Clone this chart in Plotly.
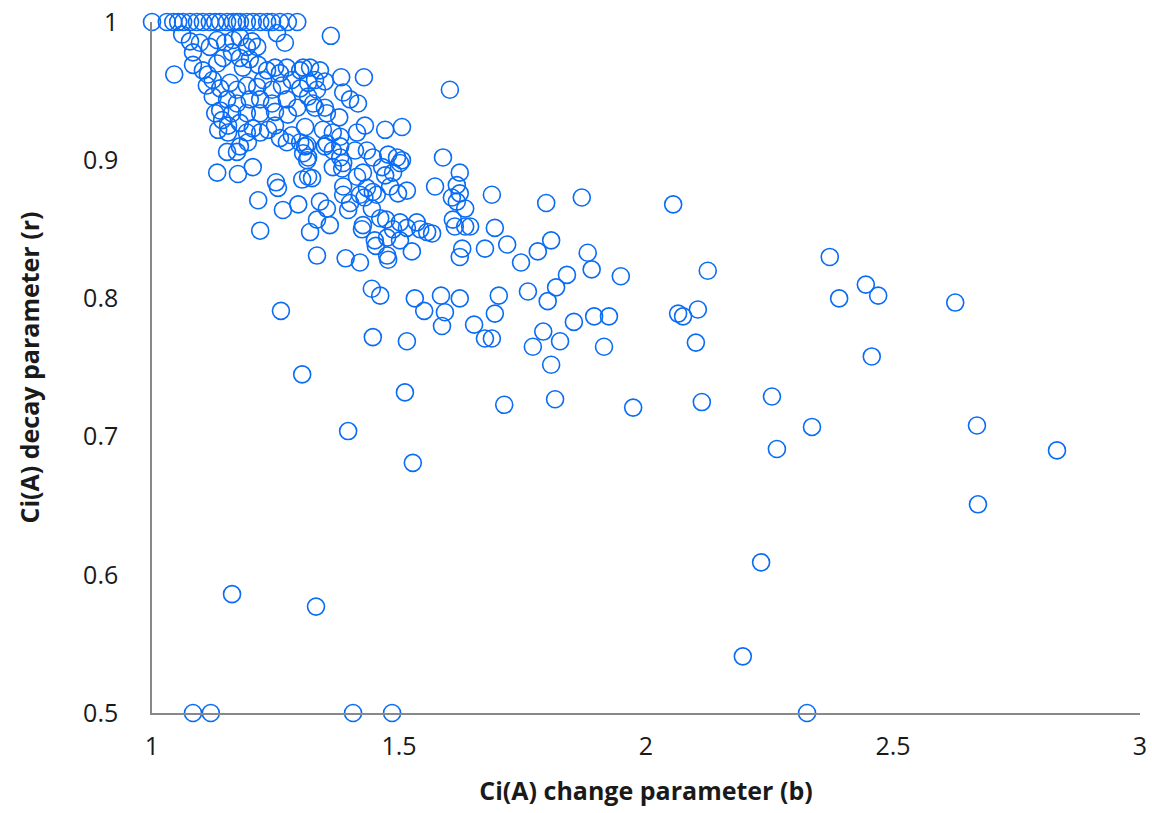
import plotly.graph_objects as go

# Ci(A) change parameter (b) and decay parameter (r)
b_top = [1.000, 1.030, 1.043, 1.053, 1.063, 1.077, 1.091, 1.103, 1.117, 1.128, 1.138, 1.152,
         1.164, 1.172, 1.178, 1.192, 1.204, 1.219, 1.233, 1.243, 1.259, 1.275, 1.294]
r_top = [1.0] * len(b_top)

b_c1 = [1.362, 1.045, 1.061, 1.077, 1.083, 1.097, 1.117, 1.132, 1.148, 1.164, 1.178, 1.192, 1.202,
        1.213, 1.253, 1.269, 1.083, 1.103, 1.113, 1.132, 1.144, 1.162, 1.178, 1.184, 1.198, 1.215,
        1.233, 1.249, 1.259, 1.273, 1.300, 1.320, 1.340, 1.111, 1.123, 1.138, 1.158, 1.172, 1.192,
        1.213, 1.225, 1.243, 1.263, 1.283, 1.300, 1.316, 1.334, 1.123, 1.152, 1.172, 1.198, 1.219,
        1.243, 1.273, 1.294, 1.326, 1.138, 1.162, 1.192, 1.219, 1.249, 1.275, 1.354]
r_c1 = [0.990, 0.962, 0.991, 0.986, 0.978, 0.985, 0.982, 0.987, 0.985, 0.987, 0.989, 0.982, 0.986,
        0.982, 0.992, 0.985, 0.969, 0.965, 0.962, 0.970, 0.974, 0.978, 0.974, 0.967, 0.973, 0.969,
        0.965, 0.967, 0.963, 0.967, 0.965, 0.967, 0.965, 0.954, 0.958, 0.952, 0.956, 0.951, 0.954,
        0.953, 0.958, 0.951, 0.954, 0.958, 0.952, 0.956, 0.951, 0.946, 0.944, 0.941, 0.944, 0.944,
        0.941, 0.944, 0.938, 0.941, 0.936, 0.934, 0.934, 0.934, 0.935, 0.933, 0.934]

b_c2 = [1.603, 1.429, 1.383, 1.350, 1.306, 1.330, 1.316, 1.387, 1.401, 1.417, 1.350, 1.330, 1.379,
        1.431, 1.472, 1.506, 1.346, 1.366, 1.381, 1.415, 1.310, 1.310, 1.354, 1.381, 1.411, 1.435,
        1.316, 1.381, 1.387, 1.447, 1.478, 1.496, 1.506, 1.589, 1.502, 1.623, 1.466, 1.488, 1.472,
        1.427, 1.415, 1.385, 1.316, 1.387, 1.435, 1.447, 1.482, 1.516, 1.573, 1.617, 1.623]
r_c2 = [0.951, 0.960, 0.960, 0.957, 0.967, 0.958, 0.946, 0.949, 0.944, 0.941, 0.938, 0.938, 0.931,
        0.925, 0.922, 0.924, 0.922, 0.920, 0.917, 0.920, 0.924, 0.910, 0.912, 0.910, 0.907, 0.907,
        0.902, 0.902, 0.898, 0.902, 0.904, 0.902, 0.900, 0.902, 0.898, 0.891, 0.895, 0.891, 0.889,
        0.891, 0.888, 0.894, 0.888, 0.881, 0.880, 0.877, 0.881, 0.878, 0.881, 0.882, 0.876]

b_c3 = [1.132, 1.174, 1.204, 1.251, 1.255, 1.304, 1.324, 1.215, 1.265, 1.296, 1.340, 1.354, 1.219,
        1.320, 1.334, 1.360, 1.152, 1.172, 1.134, 1.142, 1.154, 1.178, 1.192, 1.204, 1.219, 1.235,
        1.249, 1.259, 1.273, 1.283, 1.300, 1.314, 1.306, 1.314, 1.350, 1.366, 1.366, 1.178, 1.194,
        1.154, 1.128]
r_c3 = [0.891, 0.890, 0.895, 0.884, 0.880, 0.886, 0.887, 0.871, 0.864, 0.868, 0.870, 0.865, 0.849,
        0.848, 0.857, 0.853, 0.906, 0.906, 0.922, 0.929, 0.925, 0.927, 0.920, 0.923, 0.920, 0.922,
        0.925, 0.916, 0.913, 0.918, 0.913, 0.911, 0.905, 0.900, 0.910, 0.907, 0.895, 0.910, 0.913,
        0.920, 0.934]

b_c4 = [1.387, 1.401, 1.397, 1.421, 1.430, 1.455, 1.445, 1.427, 1.425, 1.451, 1.453, 1.476, 1.478,
        1.462, 1.474, 1.502, 1.502, 1.526, 1.516, 1.536, 1.543, 1.557, 1.567, 1.488, 1.476, 1.498,
        1.607, 1.617, 1.634, 1.609, 1.613, 1.634, 1.644, 1.628, 1.623, 1.334, 1.392, 1.421, 1.445,
        1.462, 1.532, 1.551, 1.585, 1.593, 1.587, 1.623, 1.652, 1.447, 1.516, 1.261]
r_c4 = [0.875, 0.869, 0.864, 0.875, 0.873, 0.875, 0.865, 0.853, 0.850, 0.842, 0.838, 0.831, 0.828,
        0.858, 0.857, 0.855, 0.842, 0.834, 0.851, 0.855, 0.850, 0.848, 0.847, 0.850, 0.844, 0.876,
        0.873, 0.870, 0.865, 0.857, 0.852, 0.852, 0.852, 0.836, 0.830, 0.831, 0.829, 0.826, 0.807,
        0.802, 0.800, 0.791, 0.802, 0.790, 0.780, 0.800, 0.781, 0.772, 0.769, 0.791]

b_c5 = [1.688, 1.798, 1.870, 2.055, 1.694, 1.674, 1.719, 1.747, 1.781, 1.808, 1.882, 1.890, 1.949,
        2.125, 1.840, 1.818, 1.801, 1.761, 1.702, 1.694, 1.674, 1.688, 1.792, 1.771, 1.826, 1.808,
        1.854, 1.895, 1.925, 1.915, 2.065, 2.075, 2.105, 2.101, 1.713, 1.816, 1.974, 2.113]
r_c5 = [0.875, 0.869, 0.873, 0.868, 0.851, 0.836, 0.839, 0.826, 0.834, 0.842, 0.833, 0.821, 0.816,
        0.820, 0.817, 0.808, 0.798, 0.805, 0.802, 0.789, 0.771, 0.771, 0.776, 0.765, 0.769, 0.752,
        0.783, 0.787, 0.787, 0.765, 0.789, 0.787, 0.792, 0.768, 0.723, 0.727, 0.721, 0.725]

b_sparse = [2.372, 2.391, 2.445, 2.470, 2.626, 2.457, 2.255, 2.336, 2.265, 2.670, 2.832, 2.672,
            2.233, 2.196, 2.326, 1.304, 1.512, 1.397, 1.528, 1.162, 1.332, 1.083, 1.119, 1.407, 1.486]
r_sparse = [0.830, 0.800, 0.810, 0.802, 0.797, 0.758, 0.729, 0.707, 0.691, 0.708, 0.690, 0.651,
            0.609, 0.541, 0.500, 0.745, 0.732, 0.704, 0.681, 0.586, 0.577, 0.500, 0.500, 0.500, 0.500]

b_vals = b_top + b_c1 + b_c2 + b_c3 + b_c4 + b_c5 + b_sparse
r_vals = r_top + r_c1 + r_c2 + r_c3 + r_c4 + r_c5 + r_sparse

x_ticks = [1, 1.5, 2, 2.5, 3]
x_labels = ["1", "1.5", "2", "2.5", "3"]
y_ticks = [0.5, 0.6, 0.7, 0.8, 0.9, 1.0]
y_labels = ["0.5", "0.6", "0.7", "0.8", "0.9", "1"]

FONT = "'Open Sans', sans-serif"
TXT = "#1a1a1a"

fig = go.Figure(go.Scatter(
    x=b_vals, y=r_vals, mode="markers", cliponaxis=False,
    marker=dict(symbol="circle-open", size=17, color="#0a6cf5", line=dict(width=1.6)),
))

fig.update_layout(
    width=1152, height=813,
    margin=dict(l=152, r=12, t=22, b=100),
    paper_bgcolor="white", plot_bgcolor="white",
    showlegend=False,
    font=dict(family=FONT, size=25, color=TXT),
)
fig.update_xaxes(
    range=[1, 3], tickvals=x_ticks, ticktext=x_labels, automargin=False,
    showgrid=False, zeroline=False, showline=True, linecolor="#888888", linewidth=1.5,
    ticks="", ticklabelstandoff=10, tickfont=dict(family=FONT, size=25, color=TXT),
    title=dict(text="<b>Ci(A) change parameter (b)</b>", font=dict(family=FONT, size=25, color=TXT), standoff=22),
)
fig.update_yaxes(
    range=[0.5, 1], tickvals=y_ticks, ticktext=y_labels, automargin=False,
    showgrid=False, zeroline=False, showline=True, linecolor="#888888", linewidth=1.5,
    ticks="", ticklabelstandoff=27, tickfont=dict(family=FONT, size=25, color=TXT),
    title=dict(text="<b>Ci(A) decay parameter (r)</b>", font=dict(family=FONT, size=25, color=TXT), standoff=36),
)

fig.write_html("out.html")
